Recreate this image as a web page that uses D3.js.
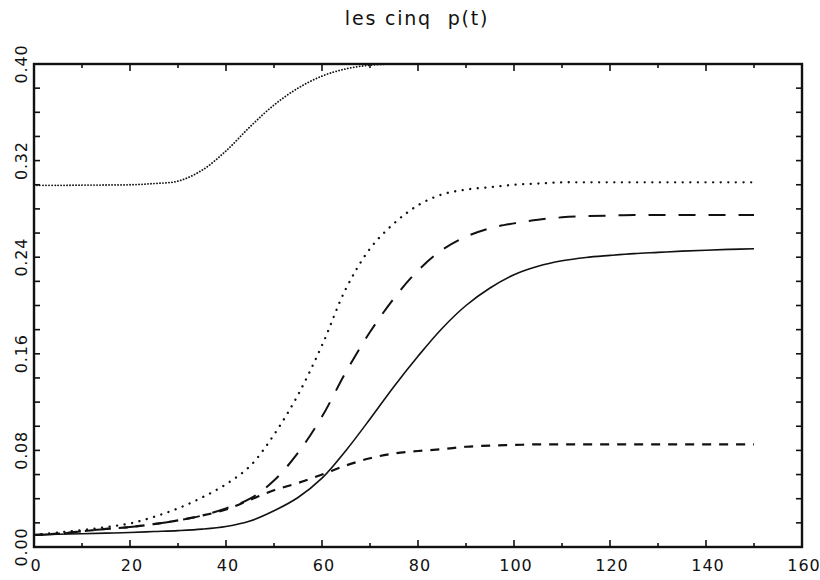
<!DOCTYPE html>
<html>
<head>
<meta charset="utf-8">
<script src="https://cdn.jsdelivr.net/npm/d3@7/dist/d3.min.js"></script>
<style>
  html, body { margin: 0; padding: 0; background: #fff; }
  svg { display: block; }
  text { font-family: "DejaVu Sans", sans-serif; fill: #111; }
</style>
</head>
<body>
<svg id="chart" width="820" height="580"></svg>
<script>
// time grid shared by all five curves
const tValues = [0, 5, 10, 15, 20, 25, 30, 35, 40, 45, 50, 55, 60, 65, 70, 75,
                 80, 85, 90, 95, 100, 105, 110, 115, 120, 125, 130, 135, 140, 145, 150];

// p(t) for each of the five sub-populations
const pSolid = [0.010, 0.0105, 0.011, 0.0115, 0.012, 0.0128, 0.0136, 0.0148, 0.0170, 0.0215,
                0.030, 0.041, 0.057, 0.080, 0.106, 0.133, 0.158, 0.181, 0.200, 0.2145,
                0.2255, 0.2325, 0.237, 0.2398, 0.2415, 0.243, 0.244, 0.245, 0.2458, 0.2465, 0.247];
const pLongDash = [0.010, 0.011, 0.013, 0.015, 0.0165, 0.019, 0.022, 0.026, 0.032, 0.040,
                   0.055, 0.078, 0.108, 0.145, 0.178, 0.206, 0.229, 0.246, 0.257, 0.264,
                   0.268, 0.271, 0.273, 0.274, 0.2745, 0.275, 0.275, 0.275, 0.275, 0.275, 0.275];
const pDotted = [0.010, 0.012, 0.014, 0.0165, 0.0195, 0.025, 0.032, 0.041, 0.052, 0.067,
                 0.093, 0.126, 0.167, 0.214, 0.247, 0.268, 0.283, 0.292, 0.296, 0.298,
                 0.300, 0.301, 0.302, 0.302, 0.302, 0.302, 0.302, 0.302, 0.302, 0.302, 0.302];
const pShortDash = [0.010, 0.011, 0.013, 0.015, 0.0165, 0.019, 0.022, 0.026, 0.031, 0.039,
                    0.047, 0.053, 0.060, 0.0675, 0.0735, 0.0775, 0.0795, 0.081, 0.083, 0.084,
                    0.0845, 0.085, 0.085, 0.085, 0.085, 0.085, 0.085, 0.085, 0.085, 0.085, 0.085];
const pUpper = [0.2995, 0.2995, 0.2997, 0.2998, 0.300, 0.301, 0.303, 0.312, 0.328, 0.348,
                0.366, 0.380, 0.390, 0.396, 0.399, 0.400, 0.400, 0.400, 0.400, 0.400,
                0.400, 0.400, 0.400, 0.400, 0.400, 0.400, 0.400, 0.400, 0.400, 0.400, 0.400];

const xTickLabels = [0, 20, 40, 60, 80, 100, 120, 140, 160];
const yTickLabels = [0.00, 0.08, 0.16, 0.24, 0.32, 0.40];

const titleText = "les cinq  p(t)";

const margin = { left: 34, right: 18, top: 64, bottom: 33 };
const width = 820, height = 580;

const svg = d3.select("#chart");

const x = d3.scaleLinear().domain([0, 160]).range([margin.left, width - margin.right]);
const y = d3.scaleLinear().domain([0, 0.40]).range([height - margin.bottom, margin.top]);

// clip curves to the plotting frame
svg.append("clipPath").attr("id", "plotClip")
  .append("rect")
  .attr("x", x(0)).attr("y", y(0.40))
  .attr("width", x(160) - x(0)).attr("height", y(0) - y(0.40));

const line = d3.line()
  .x((d, i) => x(tValues[i]))
  .y(d => y(d))
  .curve(d3.curveCatmullRom.alpha(0.5));

// dotted curves use round caps on near-zero dashes so each dash renders as a dot
const series = [
  { values: pUpper,     dash: "0.1 2.9", width: 1.8, cap: "round" },
  { values: pDotted,    dash: "0.1 7.5", width: 2.3, cap: "round" },
  { values: pLongDash,  dash: "17 13",   width: 2.0, cap: "butt" },
  { values: pSolid,     dash: null,      width: 1.6, cap: "butt" },
  { values: pShortDash, dash: "9 8",     width: 2.2, cap: "butt" }
];

const plot = svg.append("g").attr("clip-path", "url(#plotClip)");
series.forEach(s => {
  plot.append("path")
    .datum(s.values)
    .attr("d", line)
    .attr("fill", "none")
    .attr("stroke", "#111")
    .attr("stroke-width", s.width)
    .attr("stroke-linecap", s.cap)
    .attr("stroke-dasharray", s.dash);
});

// inward-pointing ticks on all four sides
const xMinor = d3.range(0, 161, 10);
const yMinor = d3.range(0, 0.4001, 0.02);
const ticks = svg.append("g").attr("stroke", "#111").attr("stroke-width", 1.6);

xMinor.forEach(v => {
  const len = (v % 20 === 0) ? 7 : 4;
  ticks.append("line").attr("x1", x(v)).attr("x2", x(v))
    .attr("y1", y(0)).attr("y2", y(0) - len);
  ticks.append("line").attr("x1", x(v)).attr("x2", x(v))
    .attr("y1", y(0.40)).attr("y2", y(0.40) + len);
});
yMinor.forEach(v => {
  ticks.append("line").attr("x1", x(0)).attr("x2", x(0) + 6)
    .attr("y1", y(v)).attr("y2", y(v));
  ticks.append("line").attr("x1", x(160)).attr("x2", x(160) - 6)
    .attr("y1", y(v)).attr("y2", y(v));
});

// frame
svg.append("rect")
  .attr("x", x(0)).attr("y", y(0.40))
  .attr("width", x(160) - x(0)).attr("height", y(0) - y(0.40))
  .attr("fill", "none").attr("stroke", "#111").attr("stroke-width", 2.4);

// axis labels
svg.append("g").selectAll("text")
  .data(xTickLabels).join("text")
  .attr("x", d => x(d) + 2)
  .attr("y", 571)
  .attr("text-anchor", "middle")
  .attr("font-size", 16)
  .attr("letter-spacing", 1)
  .text(d => d);

svg.append("g").selectAll("text")
  .data(yTickLabels).join("text")
  .attr("transform", d => `translate(27,${y(d)}) rotate(-90)`)
  .attr("text-anchor", "middle")
  .attr("font-size", 16)
  .attr("letter-spacing", 0.8)
  .text(d => d3.format(".2f")(d));

svg.append("text")
  .attr("x", 417).attr("y", 25)
  .attr("text-anchor", "middle")
  .attr("font-size", 19)
  .attr("letter-spacing", 1.8)
  .style("white-space", "pre")
  .text(titleText);
</script>
</body>
</html>
